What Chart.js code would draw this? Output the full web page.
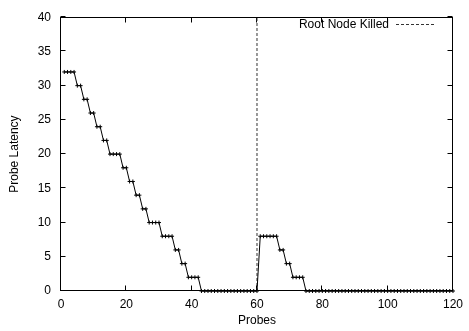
<!DOCTYPE html>
<html>
<head>
<meta charset="utf-8">
<script src="https://cdn.jsdelivr.net/npm/chart.js@4"></script>
<style>
  html, body { margin: 0; padding: 0; background: #fff; }
  #wrap { width: 469px; height: 331px; }
</style>
</head>
<body>
<div id="wrap"><canvas id="chart"></canvas></div>
<script>
// probe number (x) and measured latency (y)
const probes = [
  1, 2, 3, 4, 5, 6, 7, 8, 9, 10, 11, 12, 13, 14, 15, 16, 17, 18, 19, 20,
  21, 22, 23, 24, 25, 26, 27, 28, 29, 30, 31, 32, 33, 34, 35, 36, 37, 38, 39, 40,
  41, 42, 43, 44, 45, 46, 47, 48, 49, 50, 51, 52, 53, 54, 55, 56, 57, 58, 59, 60,
  61, 62, 63, 64, 65, 66, 67, 68, 69, 70, 71, 72, 73, 74, 75, 76, 77, 78, 79, 80,
  81, 82, 83, 84, 85, 86, 87, 88, 89, 90, 91, 92, 93, 94, 95, 96, 97, 98, 99, 100,
  101, 102, 103, 104, 105, 106, 107, 108, 109, 110, 111, 112, 113, 114, 115, 116, 117, 118, 119, 120
];
const latency = [
  32, 32, 32, 32, 30, 30, 28, 28, 26, 26, 24, 24, 22, 22, 20, 20, 20, 20, 18, 18,
  16, 16, 14, 14, 12, 12, 10, 10, 10, 10, 8, 8, 8, 8, 6, 6, 4, 4, 2, 2,
  2, 2, 0, 0, 0, 0, 0, 0, 0, 0, 0, 0, 0, 0, 0, 0, 0, 0, 0, 0,
  8, 8, 8, 8, 8, 8, 6, 6, 4, 4, 2, 2, 2, 2, 0, 0, 0, 0, 0, 0,
  0, 0, 0, 0, 0, 0, 0, 0, 0, 0, 0, 0, 0, 0, 0, 0, 0, 0, 0, 0,
  0, 0, 0, 0, 0, 0, 0, 0, 0, 0, 0, 0, 0, 0, 0, 0, 0, 0, 0, 0
];

// root node killed marker
const killProbe = [60, 60];
const killLatency = [0, 40];

const xTicks = [0, 20, 40, 60, 80, 100, 120];
const yTicks = [0, 5, 10, 15, 20, 25, 30, 35, 40];

const FONT = { family: '"Liberation Sans", Arial, Helvetica, sans-serif', size: 12 };
const TICK_LEN = 5;

// gnuplot style frame with inward ticks on all four sides
const framePlugin = {
  id: 'gnuplotFrame',
  beforeDatasetsDraw(chart) {
    const { ctx, chartArea: a, scales } = chart;
    const l = Math.round(a.left) - 0.5, r = Math.round(a.right) - 0.5;
    const t = Math.round(a.top) + 0.5, b = Math.round(a.bottom) - 0.5;
    ctx.save();
    ctx.strokeStyle = '#000';
    ctx.lineWidth = 1;
    ctx.strokeRect(l, t, r - l, b - t);
    ctx.beginPath();
    xTicks.forEach(v => {
      const px = Math.round(scales.x.getPixelForValue(v)) - 0.5;
      ctx.moveTo(px, b); ctx.lineTo(px, b - TICK_LEN);
      ctx.moveTo(px, t); ctx.lineTo(px, t + TICK_LEN);
    });
    yTicks.forEach(v => {
      const py = Math.round(scales.y.getPixelForValue(v)) - 0.5;
      ctx.moveTo(l, py); ctx.lineTo(l + TICK_LEN, py);
      ctx.moveTo(r, py); ctx.lineTo(r - TICK_LEN, py);
    });
    ctx.stroke();
    ctx.restore();
  },
  afterDraw(chart) {
    // key: text first, sample line after it, top right inside the frame
    const { ctx, chartArea: a } = chart;
    const ds = chart.data.datasets[1];
    const y = Math.round(a.top) + 7.5;
    const lineEnd = Math.round(a.right) - 17;
    const lineStart = lineEnd - 40;
    ctx.save();
    ctx.font = `${FONT.size}px ${FONT.family}`;
    ctx.fillStyle = '#000';
    ctx.textAlign = 'right';
    ctx.textBaseline = 'middle';
    ctx.fillText(ds.label, lineStart - 7, y);
    ctx.strokeStyle = ds.borderColor;
    ctx.lineWidth = 1;
    ctx.setLineDash(ds.borderDash);
    ctx.beginPath();
    ctx.moveTo(lineStart, y);
    ctx.lineTo(lineEnd, y);
    ctx.stroke();
    ctx.restore();
  }
};

new Chart(document.getElementById('chart'), {
  type: 'line',
  data: {
    datasets: [
      {
        label: 'Probe Latency',
        data: probes.map((p, i) => ({ x: p, y: latency[i] })),
        borderColor: '#000',
        borderWidth: 1,
        pointStyle: 'cross',
        pointRadius: 2,
        pointBorderWidth: 1,
        pointBorderColor: '#000',
        tension: 0,
        clip: false
      },
      {
        label: 'Root Node Killed',
        data: killProbe.map((p, i) => ({ x: p, y: killLatency[i] })),
        borderColor: '#333',
        borderWidth: 1,
        borderDash: [3, 2],
        pointRadius: 0,
        tension: 0
      }
    ]
  },
  options: {
    responsive: true,
    maintainAspectRatio: false,
    animation: false,
    layout: { padding: { top: 10, right: 11, left: 0, bottom: 0 } },
    plugins: {
      legend: { display: false },
      tooltip: { enabled: false }
    },
    scales: {
      x: {
        type: 'linear',
        min: 0,
        max: 120,
        afterBuildTicks: s => { s.ticks = xTicks.map(v => ({ value: v })); },
        afterFit: s => { s.height = 40; },
        grid: { display: false, drawTicks: false },
        border: { display: false },
        ticks: { color: '#000', font: FONT, padding: 6, maxRotation: 0, autoSkip: false },
        title: { display: true, text: 'Probes', color: '#000', font: FONT, padding: { top: 0, bottom: 3 } }
      },
      y: {
        min: 0,
        max: 40,
        afterBuildTicks: s => { s.ticks = yTicks.map(v => ({ value: v })); },
        afterFit: s => { s.width = 61; },
        grid: { display: false, drawTicks: false },
        border: { display: false },
        ticks: { color: '#000', font: FONT, padding: 10 },
        title: { display: true, text: 'Probe Latency', color: '#000', font: FONT, padding: { top: 7, bottom: 0 } }
      }
    }
  },
  plugins: [framePlugin]
});
</script>
</body>
</html>
